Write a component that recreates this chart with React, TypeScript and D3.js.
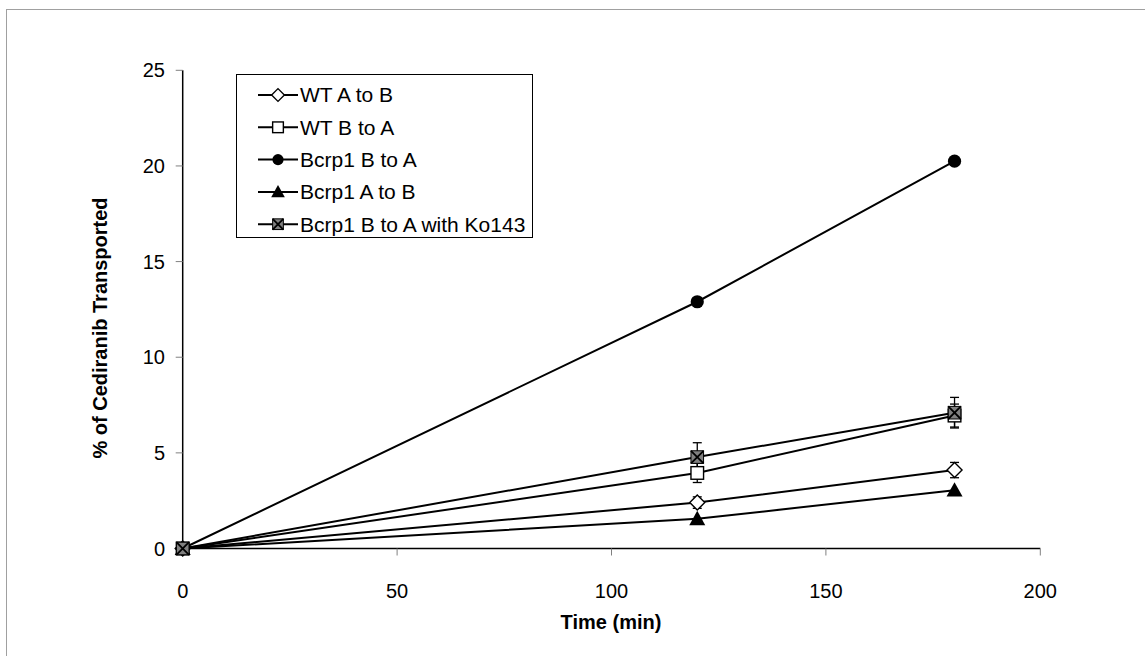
import React from "react";
import * as d3 from "d3";

const times = [0, 120, 180];
const seriesNames = ["WT A to B", "WT B to A", "Bcrp1 B to A", "Bcrp1 A to B", "Bcrp1 B to A with Ko143"];
const wtAtoB = [0, 2.4, 4.1];
const wtAtoBErr = [0, 0.3, 0.4];
const wtBtoA = [0, 3.95, 6.95];
const wtBtoAErr = [0, 0.5, 0.6];
const bcrpBtoA = [0, 12.9, 20.25];
const bcrpBtoAErr = [0, 0, 0];
const bcrpAtoB = [0, 1.55, 3.05];
const bcrpAtoBErr = [0, 0, 0];
const ko143 = [0, 4.78, 7.1];
const ko143Err = [0, 0.75, 0.8];
const xTicks = [0, 50, 100, 150, 200];
const yTicks = [0, 5, 10, 15, 20, 25];

const markers = ["diamond", "square", "circle", "triangle", "xsquare"];
const seriesVals = [wtAtoB, wtBtoA, bcrpBtoA, bcrpAtoB, ko143];
const seriesErrs = [wtAtoBErr, wtBtoAErr, bcrpBtoAErr, bcrpAtoBErr, ko143Err];

const FONT = "Arial, 'Liberation Sans', Helvetica, sans-serif";
const FS = 20;
const LFS = 21;

function Marker({ type, x, y, k = 1 }: { type: string; x: number; y: number; k?: number }) {
  if (type === "diamond") {
    const s = 7.5 * k;
    return (
      <path d={`M${x},${y - s}L${x + s},${y}L${x},${y + s}L${x - s},${y}Z`} fill="white" stroke="black" strokeWidth={1.4} />
    );
  }
  if (type === "square") {
    const s = 6.3 * k;
    return <rect x={x - s} y={y - s} width={2 * s} height={2 * s} fill="white" stroke="black" strokeWidth={1.4} />;
  }
  if (type === "circle") {
    return <circle cx={x} cy={y} r={6.6 * k} fill="black" />;
  }
  if (type === "triangle") {
    const s = 8 * k;
    return <path d={`M${x},${y - s}L${x + s},${y + s * 0.8}L${x - s},${y + s * 0.8}Z`} fill="black" />;
  }
  const s = 6.3 * k;
  return (
    <g>
      <rect x={x - s} y={y - s} width={2 * s} height={2 * s} fill="#808080" stroke="black" strokeWidth={1} />
      <path d={`M${x - s},${y - s}L${x + s},${y + s}M${x + s},${y - s}L${x - s},${y + s}`} stroke="black" strokeWidth={1.8} />
    </g>
  );
}

export default function App() {
  const W = 1145;
  const H = 656;
  const x = d3.scaleLinear().domain([0, 200]).range([182.7, 1040.3]);
  const y = d3.scaleLinear().domain([0, 25]).range([548.5, 70.3]);
  const line = d3
    .line<[number, number]>()
    .x((d) => x(d[0]))
    .y((d) => y(d[1]));

  const legendX = 236;
  const legendY = 74;
  const legendW = 296;
  const legendH = 163;
  const rowH = 32.3;

  return (
    <svg width={W} height={H} style={{ position: "absolute", left: 0, top: 0 }} fontFamily={FONT}>
      <rect x={0} y={0} width={W} height={H} fill="white" />
      <rect x={6.5} y={9.5} width={W + 10} height={H + 10} fill="none" stroke="#a0a0a0" strokeWidth={1} />

      {/* lines */}
      {seriesVals.map((vals, i) => (
        <path
          key={"l" + i}
          d={line(times.map((t, j) => [t, vals[j]] as [number, number])) || ""}
          fill="none"
          stroke="black"
          strokeWidth={2}
        />
      ))}

      {/* axes */}
      <line x1={x(0)} x2={x(0)} y1={y(25)} y2={y(0)} stroke="black" strokeWidth={1.5} />
      <line x1={x(0)} x2={x(200)} y1={y(0)} y2={y(0)} stroke="black" strokeWidth={1.5} />
      {yTicks.map((t) => (
        <g key={"yt" + t}>
          <line x1={x(0) - 7} x2={x(0)} y1={y(t)} y2={y(t)} stroke="#808080" strokeWidth={1} />
          <text x={165} y={y(t)} dy="0.35em" textAnchor="end" fontSize={FS} fill="black">
            {t}
          </text>
        </g>
      ))}
      {xTicks.map((t) => (
        <g key={"xt" + t}>
          <line x1={x(t)} x2={x(t)} y1={y(0)} y2={y(0) + 7} stroke="#808080" strokeWidth={1} />
          <text x={x(t)} y={591} dy="0.35em" textAnchor="middle" fontSize={FS} fill="black">
            {t}
          </text>
        </g>
      ))}
      <text x={611} y={622} dy="0.35em" textAnchor="middle" fontSize={FS} fontWeight="bold">
        Time (min)
      </text>
      <text
        transform={`translate(100,328) rotate(-90)`}
        textAnchor="middle"
        dy="0.35em"
        fontSize={FS}
        fontWeight="bold"
      >
        % of Cediranib Transported
      </text>

      {/* error bars */}
      {seriesVals.map((vals, i) =>
        times.map((t, j) => {
          const e = seriesErrs[i][j];
          if (!e) return null;
          const cx = x(t);
          return (
            <g key={"e" + i + "-" + j} stroke="black" strokeWidth={1.3}>
              <line x1={cx} x2={cx} y1={y(vals[j] + e)} y2={y(vals[j] - e)} />
              <line x1={cx - 4.5} x2={cx + 4.5} y1={y(vals[j] + e)} y2={y(vals[j] + e)} />
              <line x1={cx - 4.5} x2={cx + 4.5} y1={y(vals[j] - e)} y2={y(vals[j] - e)} />
            </g>
          );
        })
      )}

      {/* markers */}
      {seriesVals.map((vals, i) =>
        times.map((t, j) => <Marker key={"m" + i + "-" + j} type={markers[i]} x={x(t)} y={y(vals[j])} />)
      )}

      {/* legend */}
      <rect x={legendX + 0.5} y={legendY + 0.5} width={legendW} height={legendH} fill="white" stroke="black" strokeWidth={1} />
      {seriesNames.map((name, i) => {
        const ry = legendY + 21 + i * rowH;
        return (
          <g key={"lg" + i}>
            <line x1={258} x2={298} y1={ry} y2={ry} stroke="black" strokeWidth={2} />
            <Marker type={markers[i]} x={278} y={ry} k={0.85} />
            <text x={300} y={ry} dy="0.35em" fontSize={LFS} fill="black">
              {name}
            </text>
          </g>
        );
      })}
    </svg>
  );
}
